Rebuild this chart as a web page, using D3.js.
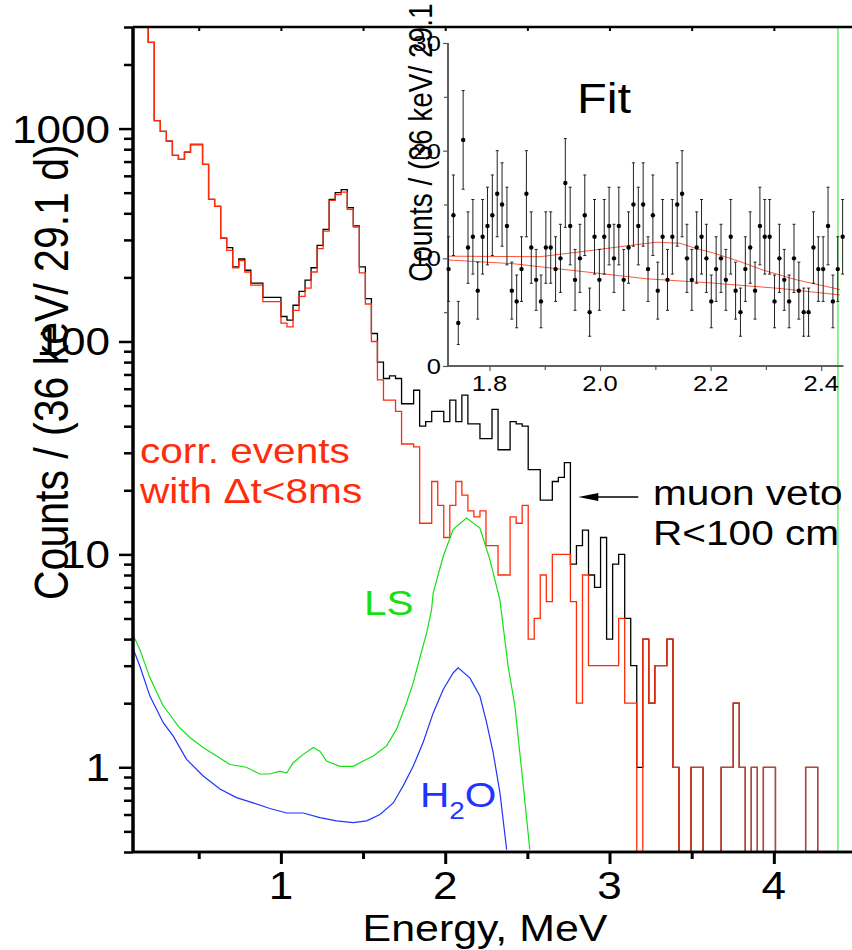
<!DOCTYPE html>
<html>
<head>
<meta charset="utf-8">
<script src="https://cdn.jsdelivr.net/npm/d3@7"></script>
<style>
  body { margin: 0; background: #fff; }
  svg { display: block; font-family: "Liberation Sans", Arial, sans-serif; }
</style>
</head>
<body>
<div id="chart"></div>
<script>
/* DATA */
// histogram bins: lower edge of first bin and bin width (MeV)
const binStart = 0.1563;
const binWidth = 0.0367;

// muon veto R<100 cm (black)
const muonVeto = [
  4000,
  2540, 1090, 970, 873, 748, 716, 775, 842, 842, 679,
  465, 431, 306, 276, 224, 244, 216, 188, 188, 161,
  161, 161, 131, 126, 148, 172, 194, 222, 283, 336,
  465, 500, 517, 425, 349, 224, 159, 109, 80, 67,
  69, 67, 51, 51, 59, 40, 42, 47, 47, 42,
  53, 42, 56, 41, 41, 35, 35, 48, 31, 31,
  42, 41, 40, 25, 25, 18, 18, 22, 23, 27,
  9, 11, 13, 8, 7, 12, 4, 9, 10, 5,
  3, 1, 4, 2, 3, 3, 4, 1, 0, 0,
  1, 1, 0, 0, 0, 1, 1, 2, 1, 0,
  1, 0, 1, 1, 0, 0, 0, 0, 0, 1,
  1, 0, 0, 0, 0, 0, 0, 0
];

// correlated events with dt<8ms (red)
const corrEvents = [
  4000,
  2540, 1090, 970, 873, 748, 716, 775, 842, 842, 679,
  465, 431, 306, 268, 222, 240, 212, 184, 184, 154,
  154, 154, 122, 117, 140, 163, 178, 212, 273, 330,
  460, 490, 503, 418, 345, 210, 150, 100, 66, 53,
  53, 47, 33, 33, 32, 14, 14, 22, 17, 12,
  17, 22, 19, 16, 15, 16, 11, 11, 8, 8,
  15, 14, 17, 4, 5, 8, 6, 10, 10, 10,
  6, 2, 8, 3, 3, 3, 3, 3, 5, 2,
  2, 0, 4, 2, 3, 3, 4, 1, 0, 0,
  1, 1, 0, 0, 0, 1, 1, 2, 1, 0,
  1, 0, 1, 1, 0, 0, 0, 0, 0, 1,
  1, 0, 0, 0, 0, 0, 0, 0
];

// simulated spectra (energy MeV, counts)
const lsE = [0.095, 0.142, 0.203, 0.284, 0.324, 0.375, 0.446, 0.527, 0.609, 0.690, 0.789, 0.872, 0.933,
  0.994, 1.035, 1.075, 1.136, 1.197, 1.237, 1.278, 1.359, 1.440, 1.501, 1.562, 1.643, 1.704, 1.765,
  1.805, 1.846, 1.887, 1.917, 1.927, 1.988, 2.049, 2.130, 2.211, 2.272, 2.333, 2.383, 2.424, 2.471, 2.515];
const lsV = [4.28, 3.57, 2.63, 1.94, 1.77, 1.56, 1.38, 1.24, 1.13, 1.03, 1.00, 0.93, 0.93,
  0.96, 0.94, 1.05, 1.15, 1.24, 1.19, 1.07, 1.01, 1.01, 1.07, 1.13, 1.26, 1.51, 2.01,
  2.49, 3.27, 4.28, 5.5, 6.6, 9.8, 13.1, 14.8, 13.3, 9.45, 6.1, 2.98, 1.94, 0.88, 0.41];

const h2oE = [0.095, 0.142, 0.203, 0.284, 0.345, 0.426, 0.527, 0.629, 0.730, 0.831, 0.933, 1.035,
  1.136, 1.237, 1.339, 1.440, 1.522, 1.603, 1.684, 1.745, 1.805, 1.866, 1.927, 1.988, 2.049, 2.079,
  2.150, 2.211, 2.252, 2.292, 2.333, 2.374];
const h2oV = [3.7, 2.98, 2.16, 1.62, 1.40, 1.09, 0.91, 0.79, 0.72, 0.68, 0.64, 0.61,
  0.61, 0.58, 0.56, 0.55, 0.56, 0.60, 0.68, 0.82, 1.01, 1.31, 1.80, 2.32, 2.78, 2.93,
  2.63, 2.16, 1.62, 1.17, 0.76, 0.41];

const markerE = 4.39; // green vertical line

// inset: 9 keV points
const inStart = 1.726;
const inStep = 0.0088;
const inCounts = [9, 14, 4, 21, 11, 12, 7, 12, 13, 14, 16, 15, 13, 7, 6, 9, 16, 11, 8, 6,
  11, 11, 9, 10, 17, 13, 8, 10, 14, 5, 12, 8, 12, 13, 10, 13, 8, 11, 15, 13,
  15, 9, 14, 7, 12, 8, 12, 15, 16, 10, 8, 11, 12, 10, 6, 9, 10, 8, 12, 7,
  5, 9, 11, 7, 13, 12, 12, 6, 10, 8, 6, 10, 7, 5, 5, 11, 9, 9, 13, 6, 9, 12];

const fitTotE = [1.7246, 1.8915, 1.9638, 2.0543, 2.1025, 2.1447, 2.1748, 2.2049, 2.2532, 2.2953, 2.3557, 2.434];
const fitTotV = [10.2, 10.15, 10.6, 11.2, 11.5, 11.4, 10.9, 10.5, 9.7, 8.9, 8.0, 7.1];
const fitBgE = [1.7246, 1.843, 1.9638, 2.0845, 2.2049, 2.3255, 2.434];
const fitBgV = [9.85, 9.5, 8.8, 8.1, 7.7, 7.2, 6.6];

const yMajor = [1, 10, 100, 1000];
const yMinor = [0.4, 0.5, 0.6, 0.7, 0.8, 0.9, 2, 3, 4, 5, 6, 7, 8, 9, 20, 30, 40, 50, 60, 70, 80, 90,
  200, 300, 400, 500, 600, 700, 800, 900, 2000, 3000];
const xMajor = [1, 2, 3, 4];
const xMinor = [0.5, 1.5, 2.5, 3.5, 4.5];
const inXMajor = [1.8, 2.0, 2.2, 2.4];
const inXMinor = [1.9, 2.1, 2.3];
const inYMajor = [0, 10, 20, 30];
const inYMinor = [5, 15, 25];

/* LAYOUT */
const width = 852, height = 950;
const margin = { top: 27, bottom: 98, left: 133, right: -4 };
const SX = 1.16; // glyphs in the original are horizontally wide
const RED = "#ff2c0c", GREEN = "#14e014", BLUE = "#1f35ff";

const svg = d3.select("#chart").append("svg")
  .attr("width", width).attr("height", height);

const x = d3.scaleLinear().domain([0.1, 4.5]).range([margin.left, width - margin.right]);
const y = d3.scaleLog().domain([0.4, 3000]).range([height - margin.bottom, margin.top]);

svg.append("clipPath").attr("id", "plotclip")
  .append("rect")
  .attr("x", margin.left).attr("y", margin.top)
  .attr("width", width - margin.right - margin.left)
  .attr("height", height - margin.bottom - margin.top);

function stext(g, px, py, str, size, anchor, color, rot) {
  return g.append("text")
    .attr("transform", `translate(${px},${py}) scale(${SX},1)` + (rot ? ` rotate(${rot})` : ""))
    .attr("font-size", size)
    .attr("text-anchor", anchor)
    .attr("fill", color)
    .text(str);
}

const plot = svg.append("g").attr("clip-path", "url(#plotclip)");

// histograms
function histPoints(counts) {
  const pts = counts.map((c, i) => ({ e: binStart + i * binWidth, v: Math.max(c, 0.05) }));
  pts.push({ e: binStart + counts.length * binWidth, v: pts[pts.length - 1].v });
  return pts;
}
const stepLine = d3.line().curve(d3.curveStepAfter).x(d => x(d.e)).y(d => y(d.v));

plot.append("path").datum(histPoints(muonVeto))
  .attr("fill", "none").attr("stroke", "#000").attr("stroke-width", 1.3).attr("d", stepLine);
plot.append("path").datum(histPoints(corrEvents))
  .attr("fill", "none").attr("stroke", RED).attr("stroke-width", 1.3).attr("d", stepLine);

const curve = d3.line().x(d => x(d[0])).y(d => y(d[1]));
plot.append("path").datum(lsE.map((e, i) => [e, lsV[i]]))
  .attr("fill", "none").attr("stroke", GREEN).attr("stroke-width", 1.2).attr("d", curve);
plot.append("path").datum(h2oE.map((e, i) => [e, h2oV[i]]))
  .attr("fill", "none").attr("stroke", BLUE).attr("stroke-width", 1.2).attr("d", curve);

plot.append("line")
  .attr("x1", x(markerE)).attr("x2", x(markerE))
  .attr("y1", margin.top).attr("y2", height - margin.bottom)
  .attr("stroke", "#44ee44").attr("stroke-width", 1.2);

// main axes
const xAxisG = svg.append("g").attr("transform", `translate(0,${height - margin.bottom})`);
xAxisG.append("g").call(d3.axisBottom(x).tickValues(xMajor).tickSize(12).tickFormat(""));
xAxisG.append("g").call(d3.axisBottom(x).tickValues(xMinor).tickSize(7).tickFormat(""));
xAxisG.selectAll(".domain").attr("stroke-width", 2.5).attr("d", `M${margin.left},0H${width}`);
xAxisG.selectAll(".tick line").attr("stroke-width", 3);

const topG = svg.append("g").attr("transform", `translate(0,${margin.top})`);
topG.append("g").call(d3.axisTop(x).tickValues(xMajor.concat(xMinor)).tickSize(-4).tickFormat(""));
topG.selectAll(".domain").attr("stroke-width", 2.5).attr("d", `M${margin.left},0H${width}`);
topG.selectAll(".tick line").attr("stroke-width", 2);

const yAxisG = svg.append("g").attr("transform", `translate(${margin.left},0)`);
yAxisG.append("g").call(d3.axisLeft(y).tickValues(yMajor).tickSize(14).tickFormat(""));
yAxisG.append("g").call(d3.axisLeft(y).tickValues(yMinor).tickSize(9).tickFormat(""));
yAxisG.selectAll(".domain").attr("stroke-width", 3)
  .attr("d", `M0,${margin.top}V${height - margin.bottom}`);
yAxisG.selectAll(".tick line").attr("stroke-width", 2.5);

xMajor.forEach(v => stext(svg, x(v), 899, String(v), 38, "middle", "#000"));
yMajor.forEach(v => stext(svg, 110, y(v) + 14, String(v), 38, "end", "#000"));

stext(svg, 485, 941, "Energy, MeV", 37, "middle", "#000");
stext(svg, 68, 600, "Counts / (36 keV/ 29.1 d)", 41, "start", "#000", -90);

// annotations
stext(svg, 140, 463, "corr. events", 35, "start", RED);
stext(svg, 140, 503, "with \u0394t<8ms", 35, "start", RED);
stext(svg, 364, 615, "LS", 35, "start", GREEN);
const h2o = stext(svg, 420, 807, "H", 35, "start", BLUE);
h2o.append("tspan").attr("font-size", 24).attr("dy", 12).text("2");
h2o.append("tspan").attr("dy", -12).text("O");
stext(svg, 653, 505, "muon veto", 35, "start", "#000");
stext(svg, 653, 545, "R<100 cm", 35, "start", "#000");

// arrow pointing at the muon veto histogram
const arrowY = y(18.6), tipX = x(2.81), tailX = x(3.175);
svg.append("line")
  .attr("x1", tailX).attr("x2", tipX + 18)
  .attr("y1", arrowY).attr("y2", arrowY)
  .attr("stroke", "#000").attr("stroke-width", 1.6);
svg.append("path")
  .attr("d", `M${tipX},${arrowY}L${tipX + 20},${arrowY - 4}L${tipX + 20},${arrowY + 4}Z`)
  .attr("fill", "#000");

/* INSET */
const ix = d3.scaleLinear().domain([1.725, 2.44]).range([448, 843.3]);
const iy = d3.scaleLinear().domain([0, 30]).range([366, 43]);
const inset = svg.append("g");
const AX = "#555";

const ixG = inset.append("g").attr("transform", "translate(0,366)");
ixG.append("g").call(d3.axisBottom(ix).tickValues(inXMajor).tickSize(5).tickFormat(""));
ixG.append("g").call(d3.axisBottom(ix).tickValues(inXMinor).tickSize(4).tickFormat(""));
const iyG = inset.append("g").attr("transform", "translate(448,0)");
iyG.append("g").call(d3.axisLeft(iy).tickValues(inYMajor).tickSize(5).tickFormat(""));
iyG.append("g").call(d3.axisLeft(iy).tickValues(inYMinor).tickSize(4).tickFormat(""));
inset.selectAll(".domain").attr("stroke", AX).attr("stroke-width", 1.5);
inset.selectAll(".tick line").attr("stroke", AX).attr("stroke-width", 1.2);
ixG.selectAll(".domain").attr("d", `M448,0H843.3`);
iyG.selectAll(".domain").attr("d", `M0,43V366`);

inXMajor.forEach(v => stext(inset, ix(v), 391, v.toFixed(1), 22, "middle", "#000"));
inYMajor.forEach(v => stext(inset, 441, iy(v) + 8, String(v), 22, "end", "#000"));
// the original's inset axis title runs off the top of the figure
stext(inset, 432, 282, "Counts / (36 keV/ 29.1 d)", 28, "start", "#000", -90);
stext(inset, 604, 113, "Fit", 42, "middle", "#000");

const fitLine = d3.line().x(d => ix(d[0])).y(d => iy(d[1]));
inset.append("path").datum(fitTotE.map((e, i) => [e, fitTotV[i]]))
  .attr("fill", "none").attr("stroke", RED).attr("stroke-width", 1).attr("opacity", 0.8).attr("d", fitLine);
inset.append("path").datum(fitBgE.map((e, i) => [e, fitBgV[i]]))
  .attr("fill", "none").attr("stroke", RED).attr("stroke-width", 1).attr("opacity", 0.8).attr("d", fitLine);

const pts = inCounts.map((c, i) => ({ e: inStart + i * inStep, c: c }));
const pg = inset.selectAll("g.pt").data(pts).join("g").attr("class", "pt");
pg.append("line")
  .attr("x1", d => ix(d.e)).attr("x2", d => ix(d.e))
  .attr("y1", d => iy(d.c - Math.sqrt(d.c))).attr("y2", d => iy(d.c + Math.sqrt(d.c)))
  .attr("stroke", "#222").attr("stroke-width", 1);
[-1, 1].forEach(s => {
  pg.append("line")
    .attr("x1", d => ix(d.e) - 1.5).attr("x2", d => ix(d.e) + 1.5)
    .attr("y1", d => iy(d.c + s * Math.sqrt(d.c))).attr("y2", d => iy(d.c + s * Math.sqrt(d.c)))
    .attr("stroke", "#222").attr("stroke-width", 1);
});
pg.append("circle")
  .attr("cx", d => ix(d.e)).attr("cy", d => iy(d.c)).attr("r", 2.2).attr("fill", "#000");
</script>
</body>
</html>
